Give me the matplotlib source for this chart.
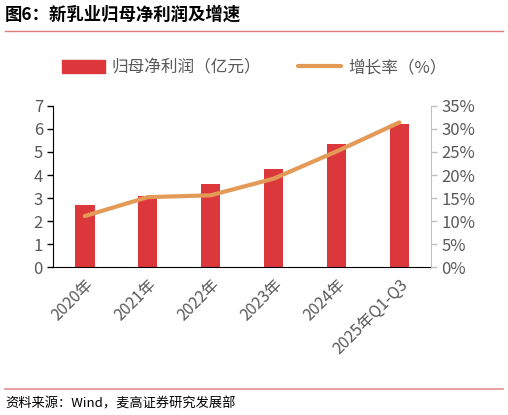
import matplotlib
matplotlib.use("Agg")
import matplotlib.pyplot as plt
from matplotlib.patches import Patch
from matplotlib.lines import Line2D

plt.rcParams['font.family'] = ['Noto Sans CJK SC', 'DejaVu Sans']

# data
years = ['2020年', '2021年', '2022年', '2023年', '2024年', '2025年Q1-Q3']
profit = [2.69, 3.09, 3.59, 4.27, 5.35, 6.22]          # 归母净利润（亿元）
growth = [11.1, 15.2, 15.6, 19.2, 25.1, 31.4]          # 增长率（%）
left_ticks = [0, 1, 2, 3, 4, 5, 6, 7]
right_ticks = [0, 5, 10, 15, 20, 25, 30, 35]

bar_color = '#DC383C'
line_color = '#E39A57'
grey = '#595959'

fig = plt.figure(figsize=(5.08, 4.15), dpi=100)
ax = fig.add_axes([0.105, 0.356, 0.743, 0.389])
x = list(range(len(years)))
ax.bar(x, profit, width=0.31, color=bar_color, zorder=2)
ax.set_xlim(-0.5, len(years) - 0.5)
ax.set_ylim(0, 7)
ax.set_yticks(left_ticks)
ax.tick_params(axis='y', colors=grey, labelsize=12, length=4, width=1, direction='out')
ax.tick_params(axis='y', color='black')
ax.set_xticks(x)
ax.set_xticklabels(years, rotation=45, ha='right', va='top', rotation_mode='anchor',
                   fontsize=11.5, color=grey)
ax.tick_params(axis='x', length=0, pad=6)
for s in ['top', 'right']:
    ax.spines[s].set_visible(False)
ax.spines['left'].set_color('black')
ax.spines['bottom'].set_color('black')

ax2 = ax.twinx()
ax2.plot(x, growth, color=line_color, lw=3, solid_capstyle='round', zorder=3)
ax2.set_ylim(0, 35)
ax2.set_yticks(right_ticks)
ax2.set_yticklabels([f'{t}%' for t in right_ticks])
ax2.tick_params(axis='y', colors=grey, labelsize=12, length=4, width=1)
ax2.tick_params(axis='y', color='#BFBFBF')
for s in ['top', 'left', 'bottom']:
    ax2.spines[s].set_visible(False)
ax2.spines['right'].set_color('#BFBFBF')

handles = [Patch(color=bar_color), Line2D([], [], color=line_color, lw=3, solid_capstyle='round')]
fig.legend(handles, ['归母净利润（亿元）', '增长率（%）'], loc='center', bbox_to_anchor=(0.5, 0.836),
           ncol=2, frameon=False, fontsize=12, labelcolor=grey, handlelength=2.6,
           handleheight=0.8, columnspacing=2.2, handletextpad=0.4)

fig.text(0.01, 0.965, '图6：新乳业归母净利润及增速', fontsize=12.5, fontweight='bold', va='center')
fig.add_artist(Line2D([0.01, 0.99], [0.925, 0.925], color='#E07B7B', lw=1))
fig.add_artist(Line2D([0.01, 0.99], [0.063, 0.063], color='#E88F8F', lw=1.2))
fig.text(0.01, 0.028, '资料来源：Wind，麦高证券研究发展部', fontsize=9.5, va='center')

fig.savefig('out.png', dpi=100)
